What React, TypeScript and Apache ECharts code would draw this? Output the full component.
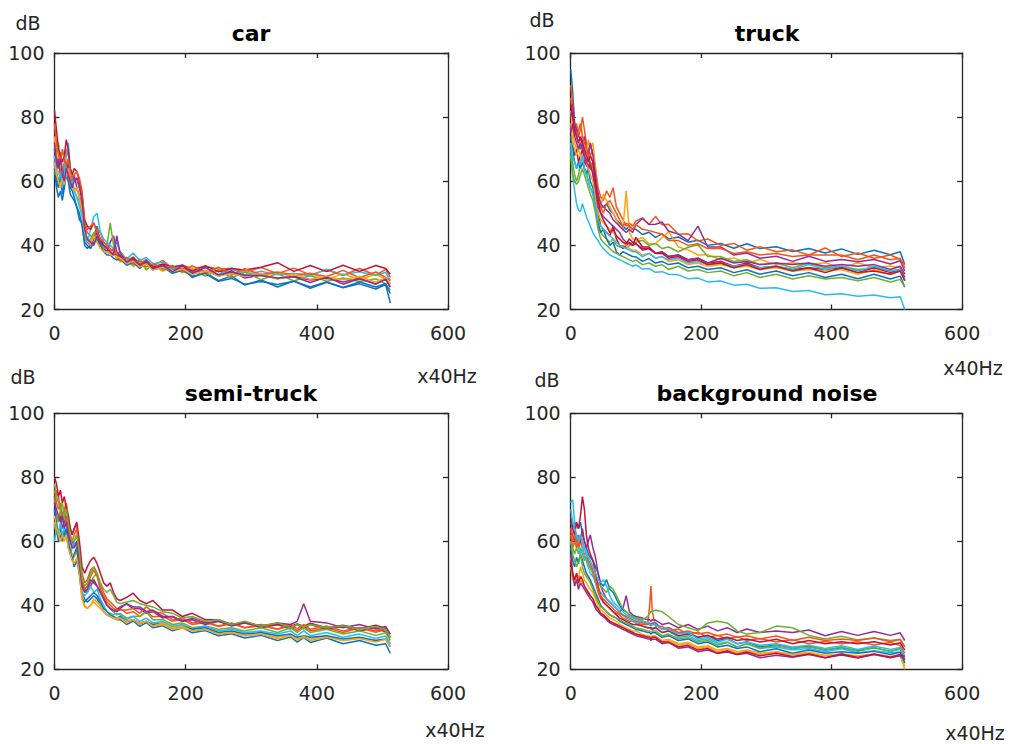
import React, { useEffect, useRef } from 'react';
import * as echarts from 'echarts';

// MATLAB default colour order
const COLORS = ['#0a72c2', '#f4561a', '#f9a514', '#932d96', '#6cb02f', '#27bdee', '#c4123a'];

const TITLES = ['car', 'truck', 'semi-truck', 'background noise'];
const X_TICKS = [0, 200, 400, 600];
const Y_TICKS = [20, 40, 60, 80, 100];

// ---------- car ----------
const CAR_X = [0,3,6,9,12,15,18,21,24,27,30,34,38,42,46,50,55,60,65,70,75,80,85,90,95,100,110,120,130,140,150,165,180,195,210,230,250,270,290,315,340,365,390,415,440,465,490,505,512];
const CAR_LINES = [
  [66,60,58,62,56,60,63,66,58,57, 55,52,48,47,40,39,40,43,46,41, 39,38,37,38,36,36.8,34.6,35.9,33.4,35, 32.4,34,31.4,32.9,30,31.6,29,30.5,27.6,29.2, 27,28.9,26.6,28.5,26.8,28,26.4,27.8,22],
  [72,68,65,69,63,66,70,68,64,62, 60,61,58,55,46,44,43,42,45,44, 41,40,39,38,37, 38.2,35.4,36.3,34.3,35.6, 33.5,35.3,32.8,33.9,32.7,33.4,32.6,32.9,31.6,33.1, 31.2,32.9,30.8,32.4,30.6,32.8,30.7,32.5,30],
  [74,66,62,64,61,63,64,61,60,59, 58,57,56,52,45,42,41,44,42,40, 39,39,37,38,36, 34.8,35.8,33.3,35.2,32.4, 34.1,31.9,33.7,31.4,33,31.3,32.2,31.2,31.8,30.7, 31.4,30.2,31.3,29.4,31.1,29.3,31,29.6,28],
  [70,64,67,62,60,64,66,63,61,60, 62,58,55,53,44,41,40,42,44,40, 39,38,41,43,38, 36.7,34.3,35.6,33.4,35.2, 32.8,33.7,32.6,32.8,31.7,32.2,30.4,32.1,29.8,30.7, 29.7,30.3,29.2,29.8,28.6,29.7,28,29.4,27],
  [62,70,72,66,64,65,62,60,59,58, 57,55,54,50,43,41,42,44,41,40, 39,40,47,40,37, 35.3,36.2,33.8,35.7,32.3, 34.2,32.4,32.8,31.8,32.3,30.4,32.2,29.9,31.7,29.3, 31.2,28.9,30.6,28.8,29.8,28.7,29.6,28,26],
  [68,63,60,63,58,62,68,72,64,60, 57,55,52,49,42,41,45,49,50,44, 42,41,40,39,41, 37.8,35.8,37.6,35.3,36.2, 34.3,34.8,32.8,33.8,31.4,33.2,30.9,32.7,30.8,31.9, 30.8,31.3,30.4,32.6,30.8,31.8,30.7,31.6,29],
  [82,76,70,68,66,68,73,70,64,62, 64,63,60,56,48,46,45,47,44,42, 40,39,38,37,37, 36.6,34.4,36.3,33.8,34.8, 33.3,34.2,33.3,33.8,32,33.7,31.8,32.8,32.3,33.2, 34.6,31.9,33.7,31.8,33.8,31.9,33.7,32.8,31],
  [64,58,55,57,54,58,62,60,56,55, 54,52,50,46,41,40,39,41,42,40, 38,37,37,36,35.5, 35.7,33.8,34.7,32.8,34.6, 32.4,33.2,31.3,32.2,30.4,31.2,28.8,29.7,27.9,28.7, 27.8,28.8,27,28.6,26.9,28.6,27,28.1,25],
  [78,72,68,66,70,67,65,67,63,61, 62,63,61,57,47,45,46,47,44,42, 41,40,38,39,37, 35.4,36.2,34.3,35.2,33.3, 34.2,32.8,33.7,31.8,33.7,31.4,33.2,30.8,32.7,30.9, 31.7,30.8,31.2,30.3,32.2,29.9,31.7,30,29],
  [66,62,60,58,61,59,62,64,60,58, 57,58,55,51,44,42,40,43,41,39, 38,38,37,37,36.5, 36.1,34.3,35.2,33.3,34.2, 32.4,33.2,31.8,32.7,30.9,32.2,30.4,31.2,30.3,31.2, 29.4,31.1,29.4,30.2,29.3,30.3,28.5,30,28],
  [72,66,64,67,62,60,64,62,60,58, 60,61,58,54,45,42,41,40,43,41, 40,39,38,37,43, 37.6,34.8,35.7,33.8,35.2, 32.8,33.7,31.8,33.6,31.3,33.1,30.8,31.7,30.7,30.6, 29.8,30.2,28.4,30.1,27.9,29.6,27.9,29.5,27],
];

// ---------- truck ----------
const TRUCK_X = [0,3,6,9,12,15,18,21,24,27,30,34,38,42,46,50,55,60,65,70,75,80,85,90,95,100,110,120,130,140,150,165,180,195,210,230,250,270,290,315,340,365,390,415,440,465,490,505,512];
const TRUCK_LINES = [
  [95,88,78,74,72,70,72,68,66,68, 64,66,60,56,52,52,53,51,50,48, 47,46,45,46,45, 45,43.4,44.1,42.5,43.6, 42,42.6,41,41.6,40,40.6,39.1,40.5,39,39.6, 38.1,39,37.6,38.9,37.2,38.5,37.1,38,34],
  [90,84,76,78,74,76,80,76,72,70, 68,70,64,58,55,54,57,55,58,52, 50,48,46,47,46, 47.6,48.6,46.5,49,46.4, 46.6,43.5,43.6,41.4,42,40,40.6,38.5,39.6,38, 38.6,37,39.2,36.5,37.6,36,37,35.6,34],
  [82,76,72,70,72,71,74,70,68,73, 70,72,64,56,52,56,54,52,50,48, 46,45,57,44,42, 41.6,42.5,40.4,40.6,42.4, 44.3,39.5,38.6,37,37.1,35.5,36.1,34.5,35.6,34, 34.6,34,34.6,33,34.6,33,33.6,33,31],
  [80,84,78,76,74,73,72,74,70,68, 72,68,62,56,53,52,51,50,48,47, 46,45,44,45,44, 46.5,48.4,46.5,46.6,47.3, 44.5,43.5,41.5,46,39.5,39.5,37,37.6,36,36.6, 35,36.6,35,35.6,34.9,35.6,34.2,35.2,32],
  [72,66,62,60,62,66,68,64,63,60, 58,56,52,46,44,43,42,41,42,40, 39.5,40,39,40,41, 41,41.6,40,40.6,39, 39.5,38,39.4,40.2,36.5,36.5,35,35.5,34,34.5, 33,34.5,33,33.5,32.5,33,32,32.5,29],
  [70,62,57,53,51,50.5,53,51,49,47.5, 46,44,42.5,41.5,40,39,38,37,36.5,36, 35.5,35,34.5,34,33.5, 33.9,32.6,32.8,31.6,31.8, 31,30.8,29.6,29.8,28.6,28.9,27.6,27.9,26.6,26.8, 25.6,25.9,24.6,24.9,24.1,24.5,23.7,24,20],
  [76,72,68,70,66,68,70,66,65,64, 66,62,56,50,46,45,44,43,46,42, 40,39,40,41,40, 42.5,39.5,39.5,37.5,38, 36.5,37,35.5,36,34.5,35,33.5,34.5,33,33.5, 32.5,33,32.5,33,31.5,33,31.5,32.5,30],
  [74,70,66,64,66,64,66,64,62,64, 60,58,52,47,44,45,42,40,41,38, 37,38,37.5,37,36.5, 36.4,35,35.9,34.5,35, 34,34.5,33,33.5,32.5,33,31.5,32.4,31,32, 30.5,31.5,30,31,29.6,31,29.5,30.4,27],
  [86,80,76,74,76,78,74,72,70,68, 66,64,60,54,52,50,53,54,52,50, 48,46,47,46,45, 46.5,45,44.6,44,43.5, 41.5,41.5,40,40.5,39,39,37.5,38,37,37.5, 36.5,37,37,37,35.5,37,35.5,36,33],
  [78,72,70,68,70,68,66,68,66,64, 62,60,55,50,48,47,46,45,44,43, 42,41,40,39,38.5, 38.5,37,37.5,36,36.5, 35,35.5,34,34.5,33.5,34,33,33.5,32.5,33, 32,32.5,32,32.5,31,32.5,31,32,29],
  [75,78,74,72,70,72,70,68,66,65, 64,63,58,52,50,49,48,47,46,45, 44,42,41,40.5,40, 40.5,38.5,39,37.5,38, 36.5,37,35.5,36,34.5,36,34.5,35,34,34.5, 34,34.5,33.5,34,33.5,34,32.5,33.5,31],
  [68,62,60,59,60,62,64,62,60,58, 56,54,50,45,42,41,40,39,38,37.5, 37,36.5,36,35.5,35, 35.4,34,34.5,33.5,34, 32.5,33.5,32,32.5,31.5,32,30.5,31.5,30,31, 29.5,30.5,29.5,30,29,30,28.6,29.4,27],
  [72,68,66,64,65,66,68,64,62,60, 58,56,52,48,46,45,44,43,42,41, 40,39.5,39,38.5,38, 38,36.5,37.5,36,36.5, 35.5,36,34.5,35,34,34.5,33.5,34,33,33.5, 32.5,34,32.5,33.5,32,33.5,32,32.5,29],
  [84,80,76,74,72,74,72,70,68,66, 68,66,60,54,50,48,46,44,45,43, 42,41,40.5,42,41, 40.5,39,39,37.5,37.5, 36,36.5,35,35.5,34,34.5,33,34,32.5,33.5, 32,33,31.5,33,31.5,32,31,32,29],
];

// ---------- semi-truck ----------
const SEMI_X = [0,3,6,9,12,15,18,21,24,27,30,34,38,42,46,50,55,60,65,70,75,80,85,90,95,100,110,120,130,140,150,165,180,195,210,230,250,270,290,315,340,360,370,380,390,415,440,465,490,505,512];
const SEMI_LINES = [
  [74,66,62,64,61,64,62,60,56,55, 52,54,50,44,42,41,42,43,42,40, 38,37,36.5,36,35.5, 35.6,34,35.1,33.4,34.6, 33,33.6,32,33,31.4,32.1,30.5,31.1,29.8,30.6, 29,30.1,28.5,29.9,28.4,29.8,28,29,27.5,28,25],
  [72,76,74,70,68,70,72,68,64,62, 64,65,58,50,47,48,51,52,50,46, 44,42,41,40,39, 39,37.5,38,36.5,38, 36.4,36.6,35,35.6,34,34.6,33.4,34.2,33,33.6, 32.5,33.5,32,33.5,32,33,31.5,33,31.6,32.4,30],
  [66,62,64,62,60,62,63,60,58,56, 55,57,52,44,40,39,40,42,41,40, 38,37,36.5,36,35.5, 36,34.5,35.5,34,35, 33.5,34,32.5,33,32,32.5,31,31.5,30.5,31, 30,30.5,29.5,30,29.5,30.4,29,29.8,29,29.4,27],
  [70,68,66,68,64,66,68,64,60,60, 58,60,54,47,45,44,46,48,46,44, 42,40,39,38,38.5, 39.5,40.4,39,38.9,37.5, 38,36,36.5,35,35.5,34,35,33.5,34.5,33, 34,32.6,34,32.6,34,32.5,33.4,32,33,31.6,30],
  [64,68,66,70,66,68,66,62,60,58, 60,62,55,46,44,45,47,49,50,45, 42,40,39,38,37, 37.5,36,36.6,36.5,38, 35.5,35.5,34,34.5,33,33.5,32.5,33,32,33, 31.5,33,31.5,33,31.5,32.5,31,32,30.6,31.4,29],
  [60,64,62,66,62,64,62,58,56,58, 60,58,52,44,43,44,46,44,45,42, 40,38,37.5,37,37.5, 37,35.5,36.5,35,36, 34.5,35,33.5,34,32.5,33.5,32,32.5,31.5,32, 31,32,30.5,32,30.5,31.5,30,31,29.6,30.4,28],
  [80,78,74,76,72,74,70,68,64,62, 64,66,60,52,50,52,54,55,53,50, 47,46,47,44,42, 41.5,42.5,43.8,41.5,40.5, 41.5,38.5,38.5,36.5,37.5,35.5,35.5,34,34.6,33.6, 34,33.5,34.2,33.5,34.4,33,33.8,32.6,33.8,32.8,31],
  [70,64,60,62,60,62,64,60,57,54, 56,58,50,42,41,42,43,44,43,41, 39,38,37,36.5,36, 36.5,35,35.5,34.5,35, 34,34.5,33,33.5,32.5,33,31.5,32,31,31.5, 30.5,31,30,30.5,30,30.5,29.5,30,29,29.5,27],
  [76,72,70,72,68,70,66,64,62,60, 62,64,56,48,45,46,49,51,49,45, 43,41,40,39,38.5, 38.5,38.5,39,37.5,39.5, 38,37.5,35.5,36,34.5,35,33.5,34.5,33,34, 32.5,34,32.6,34,32.5,33.5,32,33,32,32.6,30],
  [68,64,62,60,62,60,62,58,56,54, 53,55,50,42,39.5,39,40,41,40,39, 38,37,36.5,36,36, 36,35,35.5,34.5,35, 33.5,34.5,33,33.5,32,32.5,31,31.5,30.5,31, 29.5,30.5,29,30.4,29,30,29,29.6,28.5,29.4,27],
  [72,70,68,66,68,64,66,62,60,58, 58,60,53,46,44,45,48,47,46,44, 42,40,39,38.5,38, 39,40.5,39.5,39.5,38, 38.5,36.5,36.5,35,36,34.5,35,34,34.5,33.5, 34.5,34,35,40.5,35,34.5,33,34,32.6,33.4,31],
  [78,74,72,70,72,68,70,66,62,60, 60,62,56,48,46,47,50,52,50,47, 45,44,45,43,41, 40.5,41,41.5,40.5,40, 39.5,38,37.5,36,36.5,35,35.5,34,35,33.5, 34.5,33,34,33.2,34,33,33.6,32.6,33.4,32.4,30],
];

// ---------- background noise ----------
const BG_X = [0,3,6,9,12,15,18,21,24,27,30,34,38,42,46,50,55,60,65,70,75,80,85,90,95,100,110,118,121,123,125,130,140,150,165,180,195,210,225,240,255,270,290,315,340,365,390,415,440,465,490,505,512];
const BG_LINES = [
  [66,64,66,65,64,66,62,60,58,56, 55,54,52,50,47,46,48,45,44,42, 40,38.5,38,37,36.5,36,35,34.5,34.5,34, 34.5, 34.5,32.5,33,31.4,31.6,30,30.6,29,29.6, 28,28.6,27,27.6,26.5,27.2,26,26.7,25.8,26.7, 25.6,26.4,23],
  [62,58,60,58,62,60,58,56,54,52, 52,50,47,44,42,41,40,39,38,37.5, 37,36,35.5,35,35,34.5,34,34,40,46, 38, 33.5,33.4,32,32.6,31,31.6,30,30.6,29.5, 30.2,29,29.6,28.5,29.2,28,28.7,28,28.6,27.6, 28.4,27.4,25],
  [55,50,48,50,48,52,50,48,47,46, 45,44,42,40,38.5,38,37,36,35.5,35, 34,33.5,33,32.5,32,32,31,30.5,30.5,30, 30.5, 30.4,29,29.4,28,28.4,27,27.4,26,26.5, 25.6,26,25,25.5,24.6,25.3,24.3,24.8,24.2,24.8, 24,24.4,21],
  [64,62,60,62,58,60,64,60,58,60, 62,58,55,50,46,44,42,41,40,39, 38,39,43,38,37,36.5,36,35.5,35.5,35, 35.5, 35.4,34,34.5,33,34,32.5,33.5,32,33, 31.5,32.6,31.5,32,31.5,32.3,30.5,31.8,30.6,31.8, 30.6,31.4,29],
  [60,58,56,58,56,58,56,54,55,53, 52,50,48,47,46,45,44,46,45,43, 41,39,38,37,36.5,36,35.5,36.5,37.5,38, 38, 38.5,38,36.5,34,33,32,34.5,35,34.5, 32,31,31.5,33.5,33,30.6,29.5,30.3,29.2,29.8, 29,29.4,27],
  [72,73,66,60,58,56,58,55,54,52, 50,49,47,45,44,43,42,41,40,39, 38,37,36,35.5,35,34.5,33.5,33,33,32.5, 33, 33,31.5,32,30,30.5,29,29.5,28,28.5, 27,28,26.5,27,26,26.5,25.5,26.4,25.2,25.8, 25.2,25.4,22],
  [68,64,62,66,64,68,74,70,62,58, 56,54,50,46,43,41,40,39,38,37, 36,35.5,35,34.5,34,34,33.5,33,33,33, 32.5, 33,31.5,32,30.5,31,30,30.6,29.5,30, 29,29.5,28.5,29.4,28,29,28,28.6,28,28.6, 27.6,28.3,26],
  [58,54,52,55,53,56,54,52,50,49, 48,46,44,42,40,39,38,37,36.5,36, 35,34.5,34,33.5,33,32.5,32,31.5,31.5,31, 31.5, 31.4,30,30.5,29,29.5,28,28.5,27,27.5, 26.5,27,25.5,26.4,25,26,25,25.5,25,25.6, 24.6,25.3,22],
  [64,60,62,60,58,62,60,58,56,54, 53,51,48,45,43,42,41,40,39,38, 37.5,37,36.5,36,35.5,35,34.5,34,34,33.5, 34, 34,32.5,33,31.5,32,31,31.5,30.5,31, 30,30.5,29.5,30.4,29,30,29,29.5,29,29.8, 28.6,29.3,27],
  [52,48,47,49,46,48,47,46,45,44, 43,42,40,38.5,37.5,37,36,35,34.5,34, 33.5,33,32.5,32,31.5,31,30.5,30,30,29.5, 30, 30,28.5,29,27.5,28,26.5,27,25.5,26.4, 25,25.8,24.6,25.4,24.6,25,24.2,24.8,23.8,24.6, 23.8,24.3,20],
  [56,50,46,48,45,47,46,45,44,43, 42,41,39,38,37,36.5,35.5,34.5,34,33.5, 33,32.5,32,31.5,31,30.5,30,29.5,29.5,29, 29.5, 29.4,28,28.4,26.6,27,25.5,26,25,25.4, 24.6,25,23.6,24.4,23.8,24.6,23.6,24.5,23.5,24.6, 23.6,24.2,23],
  [60,56,54,52,54,56,52,50,49,48, 47,45,43,41,39.5,39,38,37,36.5,36, 35.5,35,34.5,34,33.5,33,32.5,32,32,31.5, 32, 32,30.5,31,29.5,30,28.5,29,27.5,28.4, 27,28,26.6,27.4,26.6,27,26,27,25.6,26.8, 25.6,26.3,24],
  [70,66,64,62,60,62,60,58,56,55, 54,52,50,48,47,48,46,43,41,40, 39,38,37,36.5,36,35.5,35,34.5,34,34, 34, 34,32.5,32.5,31,31.5,29.5,30,28.5,29.4, 28,28.5,27.5,28,27,27.5,26.5,27.4,26.2,27.3, 26.2,26.8,24],
  [54,50,48,50,47,49,48,46,45,44, 43,42,40,39,37.5,37,36,35,34.5,34, 33.5,33,32.5,32,31.5,31,30.5,30,30,29.5, 30, 30,28.5,28.5,27,27.5,26,26.5,25,25.8, 24.6,25.4,24.2,25,24,24.8,23.6,24.8,23.7,24.8, 23.8,24.6,24],
];

const PANELS = [
  { x: CAR_X, lines: CAR_LINES },
  { x: TRUCK_X, lines: TRUCK_LINES },
  { x: SEMI_X, lines: SEMI_LINES },
  { x: BG_X, lines: BG_LINES },
];

const GRIDS = [
  { left: 54.5, top: 53, width: 393.5, height: 256.5 },
  { left: 570.7, top: 53, width: 391.5, height: 256.5 },
  { left: 54.5, top: 413.3, width: 393.5, height: 256 },
  { left: 570.7, top: 413.3, width: 391.5, height: 256 },
];
const TITLE_POS = [[251, 33], [767, 33], [251, 393], [767, 393]];
const DB_POS = [[28, 23], [542, 20], [23, 377], [547, 380]];
const HZ_POS = [[447, 376], [973, 368], [455, 730], [975, 733]];

const FONT = '"DejaVu Sans", Verdana, sans-serif';
const AX = '#262626';

export default function App() {
  const ref = useRef<HTMLDivElement>(null);
  useEffect(() => {
    if (!ref.current) return;
    const chart = echarts.init(ref.current, null, { renderer: 'svg' });
    const xAxis: any[] = [];
    const yAxis: any[] = [];
    const series: any[] = [];
    const graphic: any[] = [];
    const line = { lineStyle: { color: AX, width: 1.3 } };
    GRIDS.forEach((g, i) => {
      ['bottom', 'top'].forEach((pos) => {
        xAxis.push({
          gridIndex: i, type: 'value', position: pos,
          min: X_TICKS[0], max: X_TICKS[X_TICKS.length - 1], interval: 200,
          axisLine: { show: true, onZero: false, ...line },
          axisTick: { show: true, inside: true, length: 5, ...line },
          axisLabel: { show: pos === 'bottom', fontSize: 19, color: AX, fontFamily: FONT, margin: 14 },
          splitLine: { show: false },
        });
      });
      ['left', 'right'].forEach((pos) => {
        yAxis.push({
          gridIndex: i, type: 'value', position: pos,
          min: Y_TICKS[0], max: Y_TICKS[Y_TICKS.length - 1], interval: 20,
          axisLine: { show: true, onZero: false, ...line },
          axisTick: { show: true, inside: true, length: 5, ...line },
          axisLabel: { show: pos === 'left', fontSize: 19, color: AX, fontFamily: FONT, margin: 10 },
          splitLine: { show: false },
        });
      });
      const p = PANELS[i];
      p.lines.forEach((ys, k) => {
        series.push({
          type: 'line', xAxisIndex: i * 2, yAxisIndex: i * 2,
          data: p.x.map((x, j) => [x, ys[j]]),
          showSymbol: false, symbol: 'none',
          lineStyle: { width: 1.5, color: COLORS[k % COLORS.length] },
          itemStyle: { color: COLORS[k % COLORS.length] },
          z: 2,
        });
      });
      graphic.push({
        type: 'text', x: TITLE_POS[i][0], y: TITLE_POS[i][1],
        style: { text: TITLES[i], font: `bold 22px ${FONT}`, fill: '#000', textAlign: 'center', textVerticalAlign: 'middle' },
      });
      graphic.push({
        type: 'text', x: DB_POS[i][0], y: DB_POS[i][1],
        style: { text: 'dB', font: `19px ${FONT}`, fill: AX, textAlign: 'center', textVerticalAlign: 'middle' },
      });
      graphic.push({
        type: 'text', x: HZ_POS[i][0], y: HZ_POS[i][1],
        style: { text: 'x40Hz', font: `19px ${FONT}`, fill: AX, textAlign: 'center', textVerticalAlign: 'middle' },
      });
    });
    chart.setOption({
      animation: false,
      backgroundColor: '#fff',
      grid: GRIDS.map((g) => ({ ...g, containLabel: false })),
      xAxis, yAxis, series, graphic,
    });
    return () => chart.dispose();
  }, []);
  return <div ref={ref} style={{ position: 'fixed', left: 0, top: 0, width: 1013, height: 744, background: '#fff' }} />;
}
